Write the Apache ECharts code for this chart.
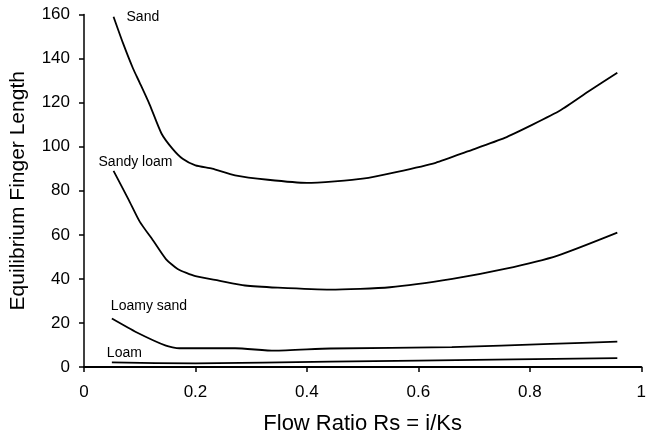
<!DOCTYPE html>
<html>
<head>
<meta charset="utf-8">
<script src="https://cdn.jsdelivr.net/npm/echarts@6/dist/echarts.min.js"></script>
<style>
  html, body { margin: 0; padding: 0; background: #fff; }
  #main { width: 649px; height: 440px; }
</style>
</head>
<body>
<div id="main"></div>
<script>
// series data: [flow ratio, finger length]
const sand = [[0.053,159],[0.07,147],[0.088,135.5],[0.10,129],[0.118,119],[0.139,106],[0.159,99],[0.177,94.5],[0.2,91.5],[0.23,90],[0.271,87],[0.33,85],[0.40,83.6],[0.45,84.3],[0.50,85.5],[0.56,88.5],[0.631,92.7],[0.69,98],[0.755,104],[0.805,110],[0.855,116.5],[0.905,125],[0.957,133.6]];
const sandyLoam = [[0.053,89],[0.08,76],[0.1,66],[0.124,57.4],[0.147,49],[0.168,44.5],[0.2,41.2],[0.242,39.2],[0.289,37],[0.348,36],[0.442,35.1],[0.549,36.2],[0.661,40],[0.755,44.5],[0.85,50.6],[0.957,61]];
const loamySand = [[0.05,22],[0.094,15.8],[0.147,9.7],[0.171,8.5],[0.271,8.5],[0.342,7.4],[0.442,8.4],[0.66,9],[0.837,10.5],[0.957,11.5]];
const loam = [[0.05,2.1],[0.2,1.6],[0.442,2.4],[0.6,2.9],[0.957,4]];

const seriesNames = ['Sand', 'Sandy loam', 'Loamy sand', 'Loam'];
const seriesData = [sand, sandyLoam, loamySand, loam];
// label offset from the first point of each curve (px)
const labelOffsets = [[13, 0], [-15, -9], [-1, -12], [-5, -9]];

const xTicks = { min: 0, max: 1, interval: 0.2 };
const yTicks = { min: 0, max: 160, interval: 20 };

const font = 'Liberation Sans, Arial, sans-serif';

const chart = echarts.init(document.getElementById('main'));
chart.setOption({
    animation: false,
    grid: { left: 80, right: 3, top: 14.5, bottom: 72 },
    xAxis: {
        type: 'value',
        min: xTicks.min, max: xTicks.max, interval: xTicks.interval,
        name: 'Flow Ratio Rs = i/Ks',
        nameLocation: 'middle',
        nameGap: 46,
        nameTextStyle: { color: '#000', fontSize: 22, fontFamily: font },
        axisLine: { lineStyle: { color: '#000', width: 2.2 } },
        axisTick: { length: 5, lineStyle: { color: '#000', width: 1.5 } },
        axisLabel: { color: '#000', fontSize: 17, fontFamily: font, margin: 17 },
        splitLine: { show: false }
    },
    yAxis: {
        type: 'value',
        min: yTicks.min, max: yTicks.max, interval: yTicks.interval,
        name: 'Equilibrium Finger Length',
        nameLocation: 'middle',
        nameGap: 55,
        nameTextStyle: { color: '#000', fontSize: 21, fontFamily: font },
        axisLine: { show: true, lineStyle: { color: '#000', width: 1.5 } },
        axisTick: { show: true, length: 5, lineStyle: { color: '#000', width: 1.5 } },
        axisLabel: { color: '#000', fontSize: 17, fontFamily: font, margin: 14 },
        splitLine: { show: false }
    },
    series: seriesData.map((d, i) => ({
        name: seriesNames[i],
        type: 'line',
        data: d,
        smooth: 0.2,
        showSymbol: false,
        symbol: 'none',
        lineStyle: { color: '#000', width: 1.8 },
        markPoint: {
            symbol: 'circle',
            symbolSize: 1,
            itemStyle: { color: 'rgba(0,0,0,0)' },
            label: {
                show: true,
                position: 'inside',
                align: 'left',
                verticalAlign: 'middle',
                offset: labelOffsets[i],
                formatter: seriesNames[i],
                color: '#000',
                fontSize: 14,
                fontFamily: font
            },
            data: [{ coord: d[0] }]
        }
    }))
});
</script>
</body>
</html>
